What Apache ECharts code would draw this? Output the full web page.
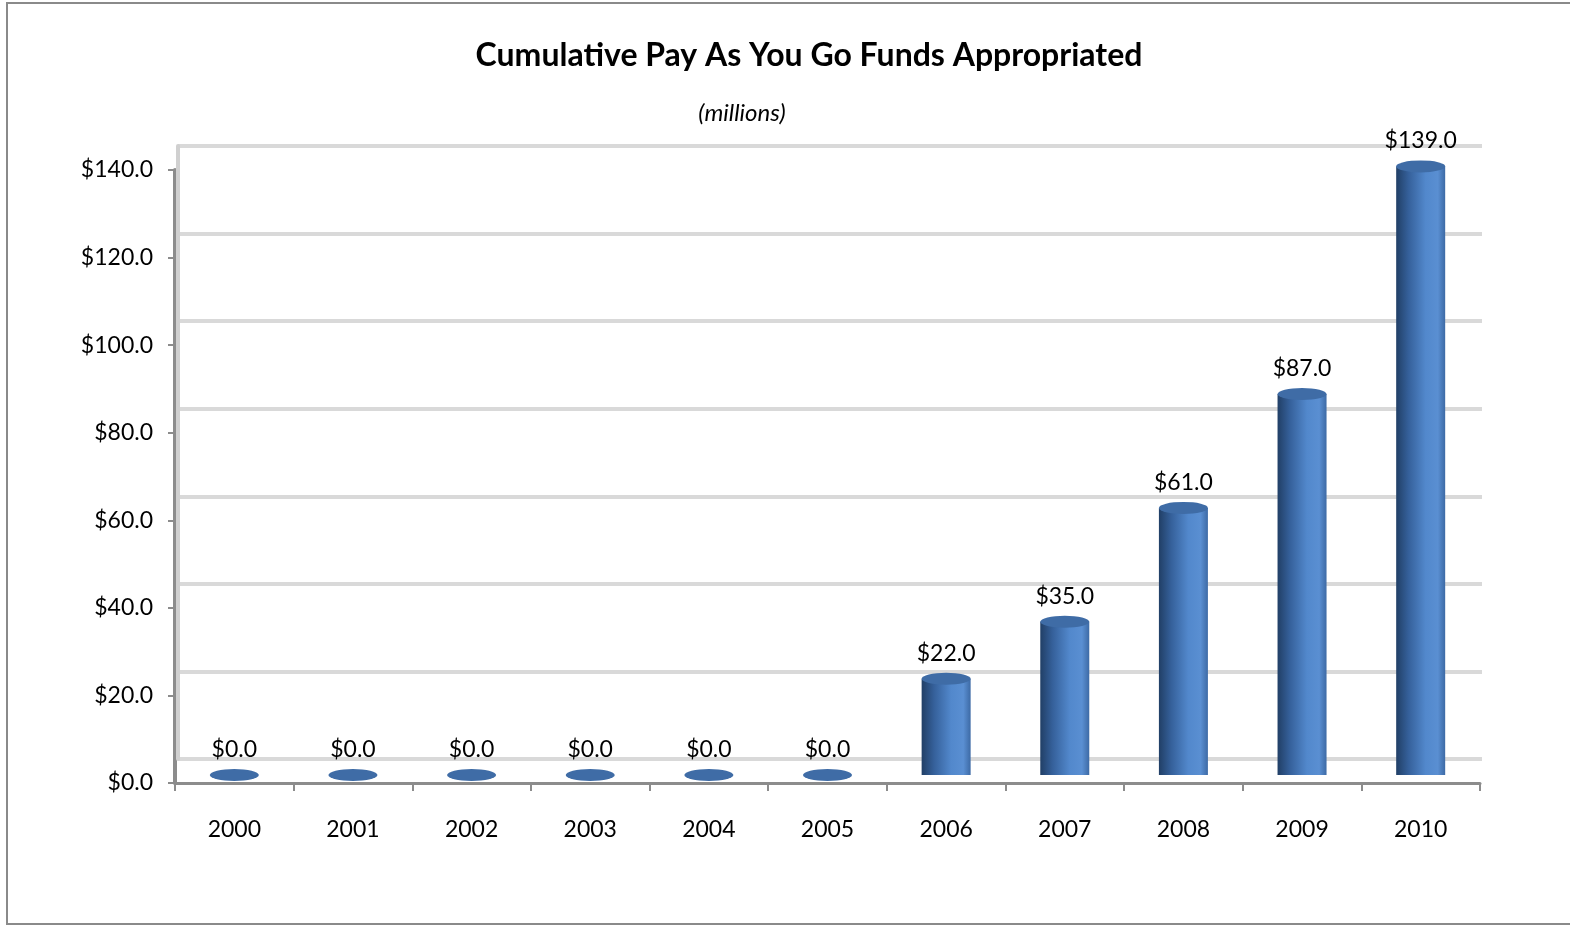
<!DOCTYPE html>
<html>
<head>
<meta charset="utf-8">
<script src="https://cdn.jsdelivr.net/npm/echarts@6/dist/echarts.min.js"></script>
<style>html,body{margin:0;padding:0;background:#fff}#c{width:1570px;height:926px}</style>
</head>
<body>
<div id="c"></div>
<script>
var years = ['2000','2001','2002','2003','2004','2005','2006','2007','2008','2009','2010'];
var funds = [0, 0, 0, 0, 0, 0, 22, 35, 61, 87, 139];
var yMin = 0, yMax = 140, yStep = 20;
var titleText = 'Cumulative Pay As You Go Funds Appropriated';
var subtitleText = '(millions)';

var FONT = 'Lato';
var chart = echarts.init(document.getElementById('c'), null, {renderer: 'canvas'});
var money = function (v) { return '$' + Number(v).toFixed(1); };

var barGrad = new echarts.graphic.LinearGradient(0, 0, 1, 0, [
  {offset: 0, color: '#213f66'},
  {offset: 0.25, color: '#35609a'},
  {offset: 0.6, color: '#5288cc'},
  {offset: 0.85, color: '#5a8fd2'},
  {offset: 1, color: '#3d6aa5'}
]);

chart.setOption({
  animation: false,
  backgroundColor: '#ffffff',
  title: [
    {text: titleText, left: 804, top: 35, textAlign: 'center',
     textStyle: {fontFamily: FONT, fontWeight: 'bold', fontSize: 32, color: '#000'}},
    {text: subtitleText, left: 737, top: 96, textAlign: 'center',
     textStyle: {fontFamily: FONT, fontStyle: 'italic', fontWeight: 'normal', fontSize: 24, color: '#000'}}
  ],
  graphic: [
    {type: 'rect', shape: {x: 7, y: 3, width: 1600, height: 921},
     style: {fill: 'none', stroke: '#8a8a8a', lineWidth: 2}, z: -10}
  ],
  grid: [
    {left: 175, right: 90, top: 170, height: 613},
    {left: 178, right: 88, top: 146, height: 613},
    {left: 175, right: 90, top: 162, height: 613}
  ],
  xAxis: [
    {type: 'category', gridIndex: 0, data: years,
     axisLine: {lineStyle: {color: '#8c8c8c', width: 3}},
     axisTick: {show: true, length: 8, lineStyle: {color: '#8c8c8c', width: 2}},
     axisLabel: {fontFamily: FONT, fontSize: 23, color: '#000', margin: 35}},
    {type: 'category', gridIndex: 1, data: years, show: false},
    {type: 'category', gridIndex: 2, data: years, show: false}
  ],
  yAxis: [
    {type: 'value', gridIndex: 0, min: yMin, max: yMax, interval: yStep,
     axisLine: {show: true, lineStyle: {color: '#8c8c8c', width: 4}},
     axisTick: {show: true, length: 7, lineStyle: {color: '#8c8c8c', width: 2}},
     splitLine: {show: false},
     axisLabel: {fontFamily: FONT, fontSize: 23, color: '#000', margin: 22, formatter: money}},
    {type: 'value', gridIndex: 1, min: yMin, max: yMax, interval: yStep,
     axisLine: {show: true, lineStyle: {color: '#d0d0d0', width: 4}},
     axisTick: {show: false}, axisLabel: {show: false},
     splitLine: {show: true, lineStyle: {color: '#d9d9d9', width: 4}}},
    {type: 'value', gridIndex: 2, min: yMin, max: yMax, show: false}
  ],
  series: [
    {type: 'bar', xAxisIndex: 2, yAxisIndex: 2, data: funds, barWidth: 49, z: 5,
     itemStyle: {color: barGrad},
     label: {show: true, position: 'top', distance: 14, formatter: function (p) { return money(p.value); },
             fontFamily: FONT, fontSize: 23, color: '#000'}},
    {type: 'pictorialBar', xAxisIndex: 2, yAxisIndex: 2, data: funds, symbol: 'circle',
     symbolSize: [49, 12], symbolPosition: 'end', symbolOffset: [0, '-50%'], z: 6,
     itemStyle: {color: '#3f6ca6'}, silent: true}
  ]
});
</script>
</body>
</html>
